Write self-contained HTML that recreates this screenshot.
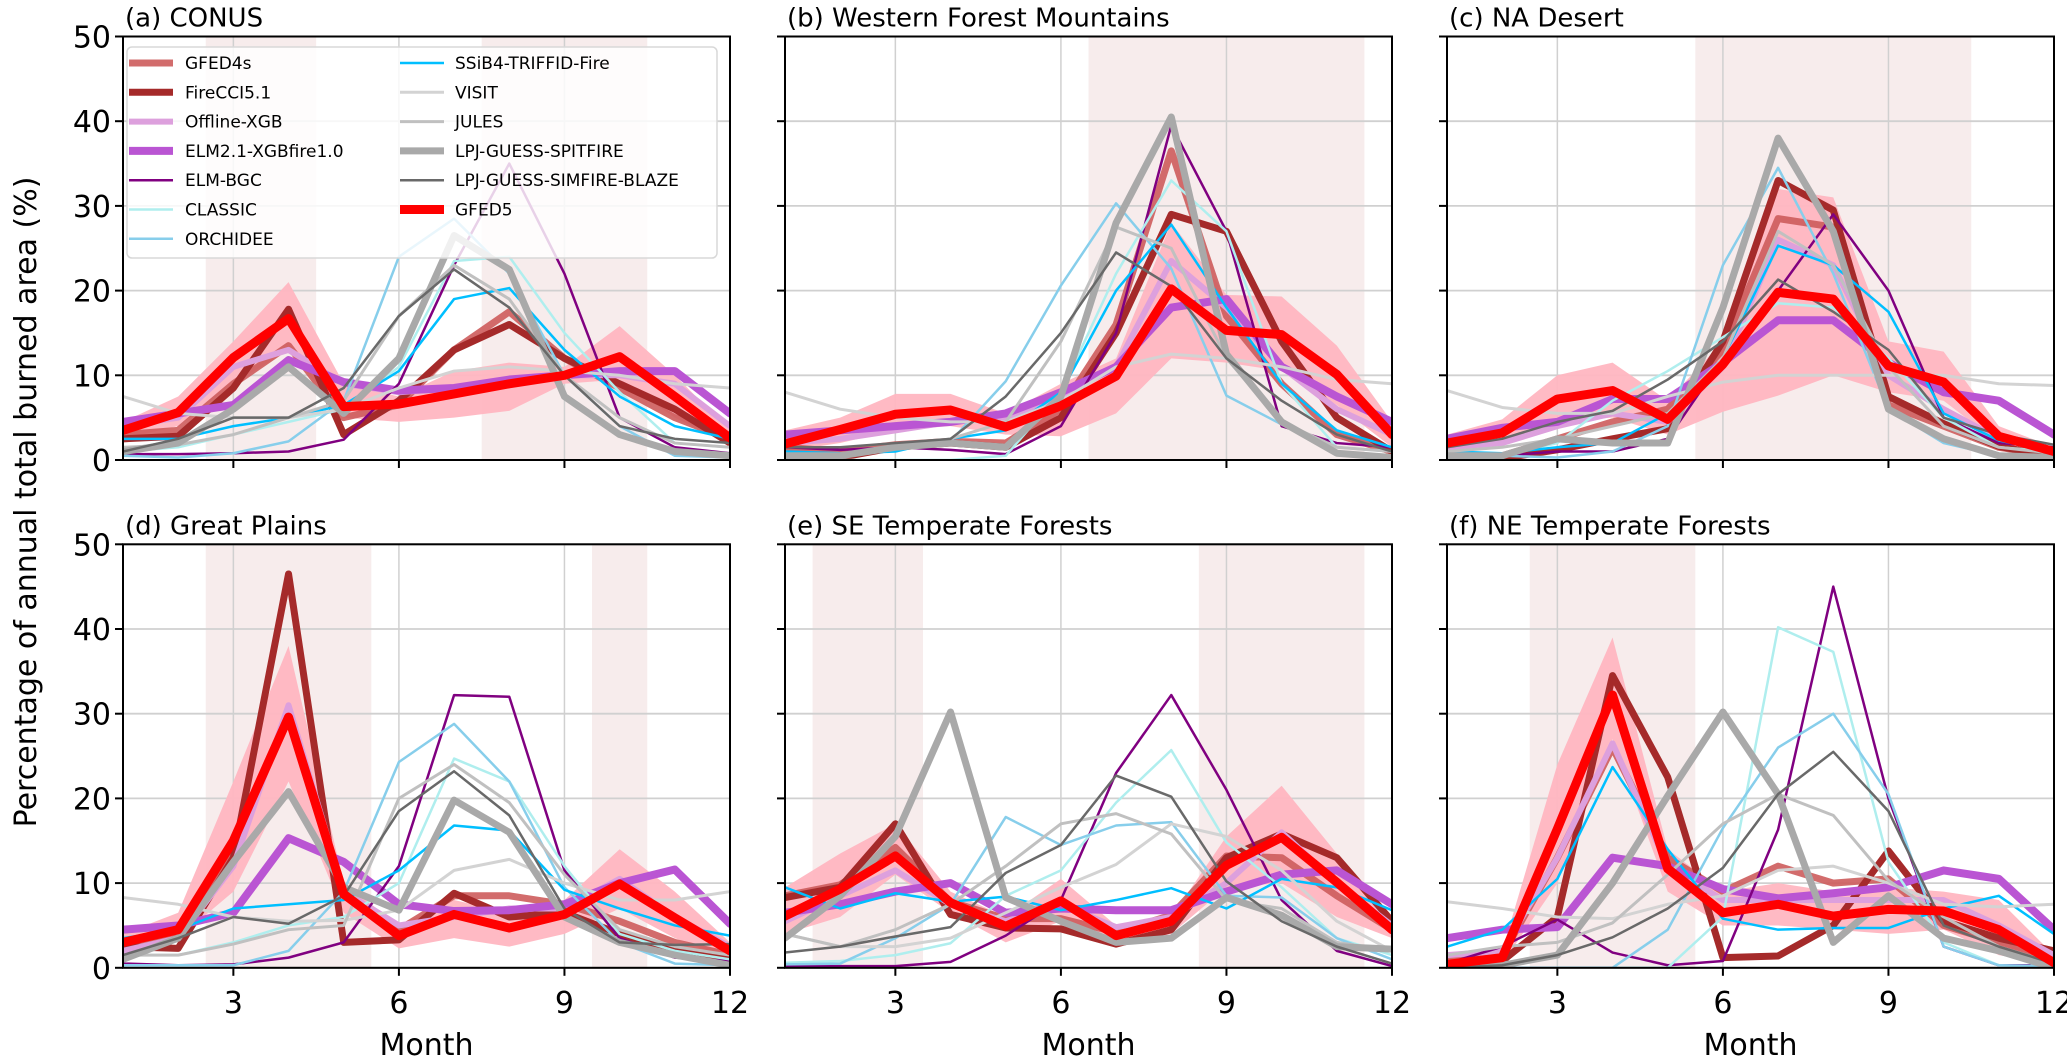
<!DOCTYPE html>
<html><head><meta charset="utf-8">
<style>
html,body{margin:0;padding:0;background:#fff;}
svg{display:block;font-family:"DejaVu Sans","Liberation Sans",sans-serif;}
</style></head>
<body>
<svg id="chart" width="2067" height="1056" viewBox="0 0 2067 1056" xmlns="http://www.w3.org/2000/svg">
<text x="0" y="0" transform="translate(36,502) rotate(-90)" text-anchor="middle" font-size="30" fill="#000">Percentage of annual total burned area (%)</text>
</svg>
<script>
const months = [1,2,3,4,5,6,7,8,9,10,11,12];
const yTicks = [0,10,20,30,40,50];
const xTicks = [3,6,9,12];
const panelTitles = ["(a) CONUS","(b) Western Forest Mountains","(c) NA Desert","(d) Great Plains","(e) SE Temperate Forests","(f) NE Temperate Forests"];
const seriesNames = ["GFED4s","FireCCI5.1","Offline-XGB","ELM2.1-XGBfire1.0","ELM-BGC","CLASSIC","ORCHIDEE","SSiB4-TRIFFID-Fire","VISIT","JULES","LPJ-GUESS-SPITFIRE","LPJ-GUESS-SIMFIRE-BLAZE","GFED5"];
const fireSeasons = [[[2.5,4.5],[7.5,10.5]],[[6.5,11.5]],[[5.5,10.5]],[[2.5,5.5],[9.5,10.5]],[[1.5,3.5],[8.5,11.5]],[[2.5,5.5]]];

// panel a
const a_GFED5 = [3.5,5.6,12.1,16.7,6.3,6.6,7.8,9.0,10,12.2,7.5,2.6];
const a_hi = [4.5,7.5,14,21,9,7.5,10.5,11.5,11,15.8,10,3.5];
const a_lo = [2.5,4,9,13,5,4.5,5,5.8,9,9.5,5,1.8];
const a_GFED4s = [3,3.5,9,13.5,5,6.5,13,17.5,12,8.5,5,2.5];
const a_FireCCI = [2.5,2.8,8.5,17.8,3,7,13,16,12,9,6,2];
const a_OffXGB = [4,5,11,13,9,8,8.5,9,10,10,9,4];
const a_ELM21 = [4.5,5.5,6.5,11.8,9.2,8.2,8.5,9.5,10,10.5,10.5,5.5];
const a_ELMBGC = [0.7,0.7,0.8,1,2.4,9,23,35,22,5,1.5,0.8];
const a_CLASSIC = [1,1.5,3,4.5,6,11,23.5,24,15,8,2,1.5];
const a_ORCH = [0.5,0.3,0.8,2.2,7,24,28.5,22,10,4,0.5,0.3];
const a_SSIB = [2.5,2.5,4,5,6.5,10.5,19,20.3,13,7.5,4,2.5];
const a_VISIT = [7.5,5.5,5,5,6,8.5,10.5,11,10.5,10,9,8.5];
const a_JULES = [1.5,1.8,3,5,7,17,23,19,10,5,2,1.5];
const a_SPIT = [1,2,6,11,5.5,12,26.5,22.5,7.5,3,1,0.5];
const a_SIMF = [1,2.5,5,5,8.5,17,22.5,18,10,4,2.5,2];
// panel b
const b_GFED5 = [1.9,3.6,5.4,5.9,3.9,6.4,9.9,20.2,15.3,14.8,10.1,3];
const b_hi = [3.5,5,7.8,7.8,5.5,9,12,28,19.5,19.3,13.5,4.5];
const b_lo = [1,2,3.5,4,3,2.8,5.5,12,11.5,10.5,6.5,1.5];
const b_GFED4s = [1.5,1,1.8,2.2,2,6,16,36.5,17,9,3,1];
const b_FireCCI = [0.5,0.3,1.5,2,1.5,5,15,29,27,14,5,1];
const b_OffXGB = [2,2.5,3.5,4.5,5,7.5,11,23.5,18,11,6,3];
const b_ELM21 = [3,3.5,4,4.5,5.5,8,11,18,19,11,7.5,4.5];
const b_ELMBGC = [1.5,1.2,1.5,1.2,0.7,4,15,39.5,27,4,2,1.5];
const b_CLASSIC = [0,0,0,0,0.5,8,22,33,27,9,1.5,1];
const b_ORCH = [0.7,0.7,1.5,2.2,9.3,20.6,30.3,22.6,7.6,4.2,1.5,1];
const b_SSIB = [1,0.8,1,2.5,3.5,8,20,27.8,18,9,3.5,1.5];
const b_VISIT = [8,6,5,4.5,4.5,7,11,12.5,12,11,9.5,9];
const b_JULES = [0.5,0.5,1.5,2.5,4.5,14,27.5,25,12,4.5,1.5,1];
const b_SPIT = [0.5,0.5,1.5,2,1.5,7.5,28,40.5,12.5,4.5,0.8,0.3];
const b_SIMF = [1.5,1.5,2,2.5,7.5,15,24.5,20.5,12,7,3,1];
// panel c
const c_GFED5 = [2,3.2,7.2,8.2,4.8,11.3,19.8,19,11.1,9.2,2.8,1];
const c_hi = [3,4.8,10,11.5,7,14,32,31,14,12.8,4,1.5];
const c_lo = [1,2,4.5,5,3,5.7,7.6,10,8,7,2,0.5];
const c_GFED4s = [0.5,0.5,2.5,4.5,6,13,28.5,27.5,6.5,4,1.5,0.5];
const c_FireCCI = [0.3,0.2,1.2,2.5,3.7,14,33,29.5,7.5,4.3,1.6,0.4];
const c_OffXGB = [1.5,2,4,5.5,4.5,11,26,23,10,6,2.5,1];
const c_ELM21 = [2.5,3.8,4.5,7.2,7.2,11.5,16.5,16.5,11.5,8,7,3];
const c_ELMBGC = [1,0.5,1,1,2.5,12,20,29,20,5,2,1.5];
const c_CLASSIC = [0.5,0.5,2,7,10.5,14.5,18.5,18,12,5,1.5,1];
const c_ORCH = [0.3,0.5,0.3,1,4,23,34.5,22,6,2,0.5,0.3];
const c_SSIB = [1,0.8,1.5,2,5.5,12,25.3,23,17.5,5.5,2.3,1];
const c_VISIT = [8.2,6.2,5.5,5.5,7.5,9.2,10,10,10,10,9,8.8];
const c_JULES = [1,1.5,2.5,4,5.5,12,27,23,11,4,1.5,0.8];
const c_SPIT = [0.5,0.5,2.5,2,2,18,38,27,6,2.5,0.5,0.3];
const c_SIMF = [1.5,2.5,4.5,5.8,9.5,14,21.3,17.5,13,5,3,1.8];
// panel d
const d_GFED5 = [3,4.5,15,29.6,8.7,3.8,6.3,4.7,6.3,9.9,5.9,2];
const d_hi = [4,6.5,22,38,10,5,8,6.5,8,14,9,3];
const d_lo = [2,3.5,9,22,6.5,2.3,3.5,2.5,4,7,3.5,1];
const d_GFED4s = [2.5,4,14,30,8.5,4.5,8.5,8.5,7.5,5.5,3,1.5];
const d_FireCCI = [2.5,2.3,13,46.5,3,3.3,8.8,6,6.5,4,2,1];
const d_OffXGB = [2,3.5,12,31,9,5,6,7,7,10.5,6,2.5];
const d_ELM21 = [4.5,5,6.5,15.3,12.5,7.5,6.7,6.8,7.5,10,11.6,5.2];
const d_ELMBGC = [0.5,0.3,0.4,1.2,3,12,32.2,32,11.5,3.5,1.2,0.8];
const d_CLASSIC = [1.5,1.5,3,5,6,10,24.7,22,12,4,2,1];
const d_ORCH = [0.3,0.3,0.3,2,9,24.3,28.8,22,9.5,3,0.5,0.3];
const d_SSIB = [3.5,4.5,7,7.5,8,11.5,16.8,16.2,9.2,7,5,3.8];
const d_VISIT = [8.3,7.5,6,5.5,5.6,6.8,11.5,12.8,10,8,8,9];
const d_JULES = [1.5,1.5,2.8,4.5,5,20,24,19.5,11,4.5,2.5,1.5];
const d_SPIT = [1,3.5,12.5,20.8,9.5,6.8,19.8,16,6,3,1.5,0.3];
const d_SIMF = [1.5,3.5,6,5.2,8.5,18.5,23.2,18,7,3,2.7,2.8];
// panel e
const e_GFED5 = [6.1,9.3,13.2,7.7,4.9,7.9,3.8,5.5,12.1,15.4,10.1,4.5];
const e_hi = [9.5,13.5,17,9,6,10.5,5,6,15.5,21.5,13.5,5.5];
const e_lo = [4,6,11,6.5,3,5.5,2.5,4,9.5,10,6,3.5];
const e_GFED4s = [8.5,9.8,14.2,7.8,5.8,5.8,4.2,6.2,13.2,13,8.5,4.5];
const e_FireCCI = [8.3,9.5,17,6.3,4.7,4.6,2.8,4.5,13,15.8,13,5.5];
const e_OffXGB = [5.5,8.5,11.5,7.5,5.5,7.5,4.8,6,10,16,10,5];
const e_ELM21 = [6.5,7.5,9,10,6.5,7,6.8,6.8,9,11,11.5,7.5];
const e_ELMBGC = [0.2,0.2,0.2,0.7,3.8,8,23,32.2,21,8,2,0.2];
const e_CLASSIC = [0.6,0.8,1.5,2.9,8.5,11.5,19.5,25.7,14.8,9.5,3.5,1.5];
const e_ORCH = [0.4,0.5,3.5,7.5,17.8,14.5,16.8,17.2,8.5,8.3,3.5,1];
const e_SSIB = [9.5,7,8.8,7.8,8.4,6.8,8,9.4,7,10.5,9.5,6.8];
const e_VISIT = [4,2.5,2.5,3.5,6.5,9.5,12.2,17,15.5,11.5,5.5,2];
const e_JULES = [4,2.5,4.5,7.5,12,17,18.2,15.8,8,7,3,2];
const e_SPIT = [3.5,8.5,15.5,30.2,8.3,5.5,3,3.5,8.3,6.2,2.5,2.2];
const e_SIMF = [1.8,2.5,3.7,4.8,11.2,14.5,22.7,20.2,10.2,5.5,2.5,0.5];
// panel f
const f_GFED5 = [0.4,1.2,16.4,32.2,11.7,6.5,7.5,6.1,6.9,6.7,4.5,0.6];
const f_hi = [1,2,24,39,14,9,10,9,9.5,9,8,1.5];
const f_lo = [0.2,0.5,10,27,9,5,5,4.5,4,4.5,1.5,0.3];
const f_GFED4s = [1,1.5,13,26,13,9,12,10,10.5,5,3,1];
const f_FireCCI = [0.3,0.8,6,34.5,22.5,1.2,1.4,5,13.8,5.5,3.5,2];
const f_OffXGB = [1.5,2,13,26.5,12,8,8,8,8,8,5,1.5];
const f_ELM21 = [3.5,4.5,4.8,13,12,9.3,8.2,8.8,9.5,11.5,10.5,4.5];
const f_ELMBGC = [0.5,2.5,5.7,1.8,0.3,0.8,16.3,45,20,2.5,0.3,0.3];
const f_CLASSIC = [0,0,0,0,0,6,40.2,37.3,12.5,3,0.3,0];
const f_ORCH = [0,0,0,0,4.5,16.5,26,30,20.5,2.5,0.3,0.2];
const f_SSIB = [2.5,4.5,10.5,23.7,14,5.8,4.5,4.7,4.7,7,8.5,4];
const f_VISIT = [7.8,7,6,5.8,7.5,8.5,11.5,12,10,7.5,7.2,7.5];
const f_JULES = [1.5,2.5,3,5.3,11,17,20.5,18,10.3,6,2.5,0.5];
const f_SPIT = [0,0.3,1.5,10,20.3,30.2,20.5,3,8.5,3.5,2,0];
const f_SIMF = [0,0.3,1.5,3.6,7,11.8,20.5,25.5,18.5,5,2.5,0.5];

const panelData = [
 {g5:a_GFED5,hi:a_hi,lo:a_lo,s:[a_GFED4s,a_FireCCI,a_OffXGB,a_ELM21,a_ELMBGC,a_CLASSIC,a_ORCH,a_SSIB,a_VISIT,a_JULES,a_SPIT,a_SIMF]},
 {g5:b_GFED5,hi:b_hi,lo:b_lo,s:[b_GFED4s,b_FireCCI,b_OffXGB,b_ELM21,b_ELMBGC,b_CLASSIC,b_ORCH,b_SSIB,b_VISIT,b_JULES,b_SPIT,b_SIMF]},
 {g5:c_GFED5,hi:c_hi,lo:c_lo,s:[c_GFED4s,c_FireCCI,c_OffXGB,c_ELM21,c_ELMBGC,c_CLASSIC,c_ORCH,c_SSIB,c_VISIT,c_JULES,c_SPIT,c_SIMF]},
 {g5:d_GFED5,hi:d_hi,lo:d_lo,s:[d_GFED4s,d_FireCCI,d_OffXGB,d_ELM21,d_ELMBGC,d_CLASSIC,d_ORCH,d_SSIB,d_VISIT,d_JULES,d_SPIT,d_SIMF]},
 {g5:e_GFED5,hi:e_hi,lo:e_lo,s:[e_GFED4s,e_FireCCI,e_OffXGB,e_ELM21,e_ELMBGC,e_CLASSIC,e_ORCH,e_SSIB,e_VISIT,e_JULES,e_SPIT,e_SIMF]},
 {g5:f_GFED5,hi:f_hi,lo:f_lo,s:[f_GFED4s,f_FireCCI,f_OffXGB,f_ELM21,f_ELMBGC,f_CLASSIC,f_ORCH,f_SSIB,f_VISIT,f_JULES,f_SPIT,f_SIMF]}
];

const styles = [
 {c:"#cd5c5c",w:7,o:0.9},{c:"#a52a2a",w:7,o:1},{c:"#dda0dd",w:6,o:1},{c:"#ba55d3",w:8,o:1},
 {c:"#800080",w:2.5,o:1},{c:"#afeeee",w:2.5,o:1},{c:"#87ceeb",w:2.5,o:1},{c:"#00bfff",w:2.5,o:1},
 {c:"#d3d3d3",w:3,o:1},{c:"#c0c0c0",w:3,o:1},{c:"#a9a9a9",w:7,o:1},{c:"#696969",w:2.5,o:1},
 {c:"#ff0000",w:9,o:1}
];

const NS = "http://www.w3.org/2000/svg";
const svg = document.getElementById("chart");
function mk(tag, attrs, parent){ const e=document.createElementNS(NS,tag); for(const k in attrs) e.setAttribute(k,attrs[k]); (parent||svg).appendChild(e); return e; }

const lefts=[123,785,1447], tops=[36.5,544.3], PW=607, PH=423.5;
const slug = t => t.replace(/^\([a-f]\)\s*/,'').toLowerCase().replace(/[^a-z0-9]+/g,'-');

panelData.forEach((pd,pi)=>{
  const col=pi%3,row=Math.floor(pi/3);
  const L=lefts[col],T=tops[row];
  const xs=m=>L+(m-1)/11*PW;
  const ys=v=>T+PH-(v/50)*PH;
  const g=mk("g",{});
  
  
  const cp=mk("clipPath",{id:"clip"+pi},g); mk("rect",{x:L,y:T,width:PW,height:PH},cp);
  // fire seasons
  fireSeasons[pi].forEach(r=>{
    const sp=mk("rect",{x:xs(r[0]),y:T,width:xs(r[1])-xs(r[0]),height:PH,fill:"#f7ecec"},g);
    
    
  });
  // grid
  yTicks.forEach(v=>{ const l=mk("line",{x1:L,x2:L+PW,y1:ys(v),y2:ys(v),stroke:"#d0d0d0","stroke-width":1.8},g);
      });
  xTicks.forEach(v=>{ const l=mk("line",{x1:xs(v),x2:xs(v),y1:T,y2:T+PH,stroke:"#d0d0d0","stroke-width":1.5},g);
      });
  const pg=mk("g",{"clip-path":"url(#clip"+pi+")"},g);
  // band
  let pts=months.map((m,i)=>xs(m)+","+ys(pd.hi[i]));
  pts=pts.concat(months.slice().reverse().map((m,j)=>{const i=11-j;return xs(m)+","+ys(pd.lo[i]);}));
  const band=mk("polygon",{points:pts.join(" "),fill:"#ffb6c1",opacity:0.95},pg);
  
  
  // series
  const all=pd.s.concat([pd.g5]);
  all.forEach((vals,si)=>{
    const st=styles[si];
    const p=mk("polyline",{points:months.map((m,i)=>xs(m)+","+ys(vals[i])).join(" "),fill:"none",stroke:st.c,"stroke-width":st.w,"stroke-opacity":st.o,"stroke-linejoin":"round","stroke-linecap":"round"},pg);
    
    
  });
  // spines
  const fr=mk("rect",{x:L,y:T,width:PW,height:PH,fill:"none",stroke:"#000","stroke-width":2},g);
   
  // ticks
  yTicks.forEach(v=>{
    mk("line",{x1:L-8,x2:L,y1:ys(v),y2:ys(v),stroke:"#000","stroke-width":2},g);
    if(col===0){ const t=mk("text",{x:L-12,y:ys(v)+11,"text-anchor":"end","font-size":30},g); t.textContent=v;
        }
  });
  xTicks.forEach(v=>{
    mk("line",{x1:xs(v),x2:xs(v),y1:T+PH,y2:T+PH+8,stroke:"#000","stroke-width":2},g);
    if(row===1){ const t=mk("text",{x:xs(v),y:T+PH+45,"text-anchor":"middle","font-size":30},g); t.textContent=v;
        }
  });
  if(row===1){ const t=mk("text",{x:L+PW/2,y:T+PH+87,"text-anchor":"middle","font-size":30},g); t.textContent="Month";
      }
  const tt=mk("text",{x:L+2,y:T-10,"font-size":26},g); tt.textContent=panelTitles[pi];
   
});

// legend
const lg=mk("g",{});


mk("rect",{x:127,y:47,width:590,height:211,rx:5,fill:"#fff","fill-opacity":0.82,stroke:"#d8d8d8","stroke-width":1.5},lg);
seriesNames.forEach((n,i)=>{
  const c=i<7?0:1, r=i<7?i:i-7;
  const y=63+r*29.3;
  const x1=c===0?129:400, x2=c===0?173:444, tx=c===0?185:455;
  const e=mk("g",{},lg);
  
  
  const st=styles[i];
  mk("line",{x1:x1,x2:x2,y1:y,y2:y,stroke:st.c,"stroke-width":st.w,"stroke-opacity":st.o},e);
  const t=mk("text",{x:tx,y:y+6,"font-size":17},e); t.textContent=n;
});
</script>
</body></html>
